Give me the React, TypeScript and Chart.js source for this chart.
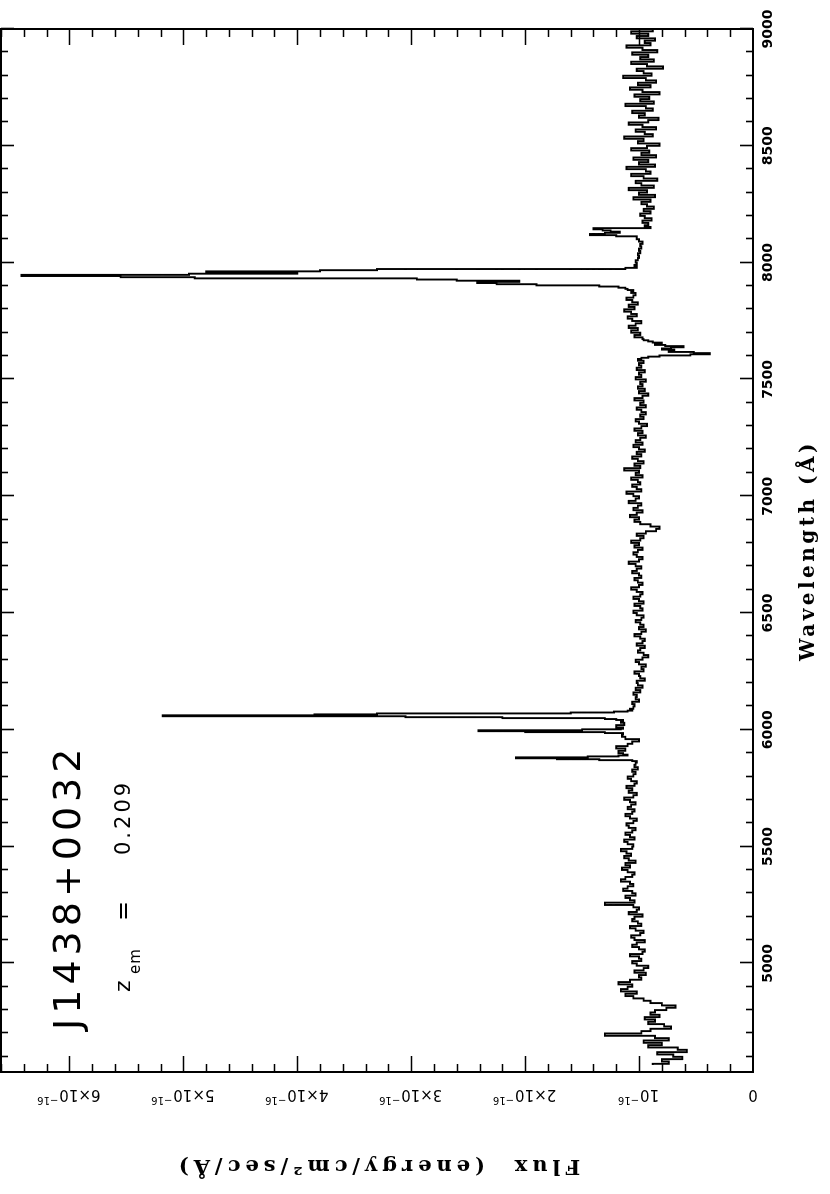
import React, { useEffect, useRef } from 'react';
import { Chart, registerables } from 'chart.js';

Chart.register(...registerables);

// ---- data (flux in units of 1e-16 erg/cm^2/s/Å) ----
const WAVE_START = 4565;
const WAVE_STEP = 10;
const continuumFlux = [
  .88, .74, .80, .62, .70, .84, .58, .66, .92, .80,
  .96, .74, .86, 1.30, .98, .90, .72, .78, .92, .86,
  .95, .82, .90, .86, .76, .68, .80, .90, .96, 1.05,
  1.12, 1.02, 1.16, 1.10, 1.06, 1.18, 1.08, .98, 1.00, .94,
  1.04, .96, .92, 1.02, 1.06, .98, 1.00, 1.08, .97, .95,
  1.00, 1.06, 1.02, .95, 1.04, 1.07, .99, .96, 1.03, 1.08,
  .98, 1.01, 1.06, 1.04, .97, 1.09, 1.02, 1.00, 1.05, 1.30,
  1.04, 1.08, 1.12, 1.03, 1.06, 1.14, 1.10, 1.05, 1.08, 1.16,
  1.12, 1.06, 1.04, 1.10, 1.15, 1.08, 1.12, 1.03, 1.09, 1.13,
  1.07, 1.11, 1.16, 1.06, 1.05, 1.10, 1.13, 1.04, 1.08, 1.12,
  1.06, 1.03, 1.09, 1.11, 1.05, 1.02, 1.08, 1.12, 1.06, 1.04,
  1.10, 1.07, 1.03, 1.08, 1.13, 1.05, 1.02, 1.09, 1.06, 1.11,
  1.04, 1.02, 1.07, 1.10, 1.05, 1.03, 1.06, 1.01, 1.04, 1.03,
  1.00, 1.50, 1.30, 1.14, 1.18, 1.12, 1.20, 1.10, 1.06, 1.00,
  1.12, 1.15, 1.60, 1.50, 1.14, 1.20, 1.13, 1.16, 1.60, 3.00,
  3.00, 1.40, 1.08, 1.05, 1.04, 1.06, 1.00, 1.03, 1.02, 1.05,
  .99, 1.03, .97, 1.01, 1.02, .95, .99, 1.00, 1.04, .96,
  .98, .94, 1.00, 1.03, .97, .92, .96, 1.01, .99, .95,
  1.02, .97, .95, .99, 1.04, .98, .94, 1.00, .96, .99,
  1.03, .98, .96, 1.02, 1.05, .97, .99, 1.04, .96, 1.00,
  1.05, .99, .97, 1.02, 1.07, 1.00, .97, 1.01, 1.04, .98,
  1.00, 1.06, 1.02, .98, 1.03, 1.09, 1.00, .97, 1.02, 1.05,
  1.01, .97, 1.04, 1.00, 1.07, .99, .96, 1.02, .94, .85,
  .82, .90, .99, 1.04, 1.00, 1.08, 1.02, .97, 1.05, 1.01,
  .98, 1.09, 1.03, 1.00, 1.05, 1.11, .98, 1.02, 1.06, .99,
  1.01, 1.07, .97, 1.03, 1.00, 1.13, .99, 1.04, .96, 1.01,
  1.06, .98, 1.02, .95, 1.00, 1.05, .97, 1.03, .99, .94,
  1.01, .97, 1.04, .98, .93, 1.00, 1.03, .96, .99, .94,
  .98, 1.02, .94, .99, .96, 1.04, .97, .92, 1.00, .95,
  1.01, .97, .99, .94, 1.03, .98, 1.00, .95, 1.02, .98,
  1.00, .96, 1.01, .90, .40, .75, .75, .61, .80, .90,
  .95, .97, 1.04, .99, 1.07, 1.01, 1.09, 1.03, .98, 1.06,
  1.10, 1.02, 1.07, 1.13, 1.04, 1.09, 1.01, 1.06, 1.11, 1.05,
  1.03, 1.07, 1.10, 2.40, 2.20, 2.90, 5.50, 4.50, 4.00, 3.50,
  1.10, 1.03, 1.04, 1.02, 1.03, 1.01, 1.00, 1.01, .99, 1.00,
  .98, .99, .97, 1.00, 1.02, 1.30, 1.20, 1.25, 1.40, .95,
  .92, .97, .89, .95, .99, .90, .96, .87, .93, .98,
  .90, 1.05, .86, 1.00, .93, 1.09, .87, .98, 1.03, .84,
  .96, 1.07, .90, .94, 1.11, .86, 1.00, .92, 1.05, .85,
  .98, .91, 1.07, .93, .82, 1.01, .96, 1.13, .88, .95,
  1.03, .85, .97, 1.09, .92, .83, 1.00, .95, 1.06, .88,
  .94, 1.12, .87, .99, .91, 1.04, .82, .97, 1.08, .90,
  1.01, .85, .94, 1.14, .89, .96, 1.02, .79, .93, 1.07,
  .87, .99, .92, 1.06, .84, .97, 1.11, .90, .95, .86,
  1.02, .92, 1.07, .88, .96,
];

// finer sampling across the emission / absorption features
const hbetaWave = [5864, 5868, 5872, 5876, 5880, 5884, 5888, 5892];
const hbetaFlux = [1.02, 1.06, 1.35, 1.72, 2.08, 1.45, 1.18, 1.10];
const oiii4959Wave = [5984, 5988, 5992, 5996, 6000, 6004];
const oiii4959Flux = [1.14, 1.30, 2.00, 2.41, 1.50, 1.16];
const oiii5007Wave = [6040, 6044, 6048, 6052, 6056, 6060, 6064, 6068, 6072, 6076, 6080, 6084];
const oiii5007Flux = [1.14, 1.20, 1.30, 2.20, 3.05, 5.18, 3.85, 3.30, 1.60, 1.22, 1.10, 1.06];
const aBandWave = [7590, 7595, 7600, 7605, 7610, 7615, 7620, 7625, 7630, 7635, 7640, 7645, 7650, 7655, 7660, 7665, 7670];
const aBandFlux = [.98, .92, .82, .55, .38, .52, .74, .69, .80, .72, .61, .77, .86, .80, .88, .92, .96];
const halphaWave = [7880, 7885, 7890, 7895, 7900, 7905, 7910, 7915, 7920, 7925, 7930, 7935, 7940, 7945, 7950, 7955, 7960, 7965, 7970, 7975, 7980];
const halphaFlux = [1.05, 1.10, 1.12, 1.18, 1.35, 1.90, 2.25, 2.42, 2.05, 2.60, 2.95, 4.90, 5.55, 6.42, 4.95, 4.00, 4.80, 3.80, 3.30, 1.12, 1.02];
const siiWave = [8110, 8115, 8120, 8125, 8130, 8135, 8140, 8145, 8150, 8155];
const siiFlux = [1.02, 1.20, 1.43, 1.30, 1.17, 1.25, 1.32, 1.40, .90, .95];

// ---- axes / labels ----
const WAVE_MIN = 4535;
const WAVE_MAX = 9000;
const FLUX_MAX = 6.6;
const wavelengthTicks = [5000, 5500, 6000, 6500, 7000, 7500, 8000, 8500, 9000];
const WAVE_MINOR_STEP = 100;
const fluxTicks = [0, 1, 2, 3, 4, 5, 6];
const FLUX_MINOR_STEP = 0.2;
const fluxTickMain = ['0', '10', '2×10', '3×10', '4×10', '5×10', '6×10'];
const fluxTickExp = ['', '−16', '−16', '−16', '−16', '−16', '−16'];
const xTitle = 'Wavelength (Å)';
const yTitle = 'Flux  (energy/cm²/sec/Å)';
const objectName = 'J1438+0032';
const redshiftSymbol = 'z';
const redshiftSub = 'em';
const redshiftValue = '0.209';

const CW = 1194;
const CH = 830;

function buildSpectrum() {
  const segments: [number[], number[]][] = [
    [hbetaWave, hbetaFlux],
    [oiii4959Wave, oiii4959Flux],
    [oiii5007Wave, oiii5007Flux],
    [aBandWave, aBandFlux],
    [halphaWave, halphaFlux],
    [siiWave, siiFlux],
  ];
  const pts: { x: number; y: number }[] = [];
  continuumFlux.forEach((f, i) => {
    const w = WAVE_START + i * WAVE_STEP;
    if (segments.some(([ws]) => w >= ws[0] && w <= ws[ws.length - 1])) return;
    pts.push({ x: w, y: f });
  });
  segments.forEach(([ws, fs]) => ws.forEach((w, i) => pts.push({ x: w, y: fs[i] })));
  pts.sort((a, b) => a.x - b.x);
  return pts;
}

const decorPlugin = {
  id: 'decor',
  afterDraw(chart: any) {
    const { ctx, chartArea, scales } = chart;
    const { left, right, top, bottom } = chartArea;
    const xs = scales.x;
    const ys = scales.y;
    ctx.save();
    ctx.strokeStyle = '#000';
    ctx.fillStyle = '#000';
    ctx.lineWidth = 2;
    ctx.strokeRect(left, top, right - left, bottom - top);

    // inward ticks on all four sides
    ctx.lineWidth = 1.6;
    ctx.beginPath();
    const firstMinor = Math.ceil(WAVE_MIN / WAVE_MINOR_STEP) * WAVE_MINOR_STEP;
    for (let w = firstMinor; w <= WAVE_MAX; w += WAVE_MINOR_STEP) {
      const px = Math.round(xs.getPixelForValue(w)) + 0.5;
      const len = w % 500 === 0 ? 13 : 7;
      ctx.moveTo(px, top);
      ctx.lineTo(px, top + len);
      ctx.moveTo(px, bottom);
      ctx.lineTo(px, bottom - len);
    }
    const nMinor = Math.floor(FLUX_MAX / FLUX_MINOR_STEP + 1e-6);
    for (let k = 1; k <= nMinor; k++) {
      const v = k * FLUX_MINOR_STEP;
      const py = Math.round(ys.getPixelForValue(v)) + 0.5;
      const len = k % 5 === 0 ? 16 : 8;
      ctx.moveTo(left, py);
      ctx.lineTo(left + len, py);
      ctx.moveTo(right, py);
      ctx.lineTo(right - len, py);
    }
    ctx.stroke();

    // flux tick labels (rotated)
    ctx.textAlign = 'left';
    ctx.textBaseline = 'alphabetic';
    fluxTicks.forEach((v, i) => {
      const py = ys.getPixelForValue(v);
      ctx.save();
      ctx.translate(104, py);
      ctx.rotate(-Math.PI / 2);
      ctx.font = '15px "DejaVu Sans"';
      const wm = ctx.measureText(fluxTickMain[i]).width;
      ctx.font = '10px "DejaVu Sans"';
      const we = fluxTickExp[i] ? ctx.measureText(fluxTickExp[i]).width : 0;
      const start = -(wm + we) / 2;
      ctx.font = '15px "DejaVu Sans"';
      ctx.fillText(fluxTickMain[i], start, 0);
      if (fluxTickExp[i]) {
        ctx.font = '10px "DejaVu Sans"';
        ctx.fillText(fluxTickExp[i], start + wm + 1, -7);
      }
      ctx.restore();
    });

    // axis titles
    const cx = (left + right) / 2;
    const cy = (top + bottom) / 2;
    ctx.textAlign = 'center';
    ctx.textBaseline = 'middle';
    ctx.font = 'bold 20px "DejaVu Serif"';
    (ctx as any).letterSpacing = '3.5px';
    ctx.fillText(xTitle, cx, 809);
    ctx.save();
    ctx.translate(29, cy);
    ctx.rotate(-Math.PI / 2);
    ctx.font = 'bold 21px "DejaVu Serif"';
    (ctx as any).letterSpacing = '5px';
    ctx.fillText(yTitle, 0, 0);
    ctx.restore();

    // annotations
    ctx.textAlign = 'left';
    ctx.textBaseline = 'alphabetic';
    ctx.font = '38px "DejaVu Sans"';
    (ctx as any).letterSpacing = '5px';
    ctx.fillText(objectName, 164, 80);
    (ctx as any).letterSpacing = '3px';
    ctx.font = '22px "DejaVu Sans"';
    ctx.fillText(redshiftSymbol, 202, 130);
    ctx.font = '15px "DejaVu Sans"';
    (ctx as any).letterSpacing = '1px';
    ctx.fillText(redshiftSub, 220, 140);
    ctx.font = '24px "DejaVu Sans"';
    (ctx as any).letterSpacing = '0px';
    ctx.textAlign = 'center';
    ctx.fillText('=', 283, 131);
    ctx.textAlign = 'left';
    ctx.font = '21px "DejaVu Sans"';
    (ctx as any).letterSpacing = '3px';
    ctx.fillText(redshiftValue, 339, 130);
    (ctx as any).letterSpacing = '0px';
    ctx.restore();
  },
};

export default function App() {
  const canvasRef = useRef<HTMLCanvasElement | null>(null);

  useEffect(() => {
    const canvas = canvasRef.current;
    if (!canvas) return;
    const chart = new Chart(canvas, {
      type: 'line',
      data: {
        datasets: [
          {
            data: buildSpectrum(),
            borderColor: '#000',
            borderWidth: 1.9,
            pointRadius: 0,
            stepped: 'middle',
            fill: false,
          },
        ],
      },
      options: {
        animation: false,
        responsive: false,
        devicePixelRatio: 1,
        layout: { padding: { top: 1, right: 29, left: 0, bottom: 0 } },
        plugins: { legend: { display: false }, tooltip: { enabled: false } },
        scales: {
          x: {
            type: 'linear',
            position: 'bottom',
            min: WAVE_MIN,
            max: WAVE_MAX,
            grid: { display: false, drawTicks: false },
            border: { display: false },
            afterBuildTicks: (s: any) => {
              s.ticks = wavelengthTicks.map((v) => ({ value: v }));
            },
            afterFit: (s: any) => {
              s.height = CH - 753;
            },
            ticks: {
              color: '#000',
              font: { family: 'DejaVu Sans', size: 14, weight: 'bold' },
              padding: 7,
              maxRotation: 0,
              minRotation: 0,
              autoSkip: false,
              callback: (v: any) => String(v),
            },
          },
          y: {
            type: 'linear',
            position: 'left',
            min: 0,
            max: FLUX_MAX,
            grid: { display: false, drawTicks: false },
            border: { display: false },
            ticks: { display: false },
            afterFit: (s: any) => {
              s.width = 122;
            },
          },
        },
      } as any,
      plugins: [decorPlugin],
    });
    return () => chart.destroy();
  }, []);

  return (
    <div
      style={{
        position: 'fixed',
        left: 0,
        top: 0,
        width: 830,
        height: 1194,
        overflow: 'hidden',
        background: '#fff',
      }}
    >
      <div
        style={{
          position: 'absolute',
          left: 0,
          top: 0,
          width: CW,
          height: CH,
          transformOrigin: '0 0',
          transform: `translateY(${CW}px) rotate(-90deg)`,
        }}
      >
        <canvas ref={canvasRef} width={CW} height={CH} style={{ display: 'block' }} />
      </div>
    </div>
  );
}
